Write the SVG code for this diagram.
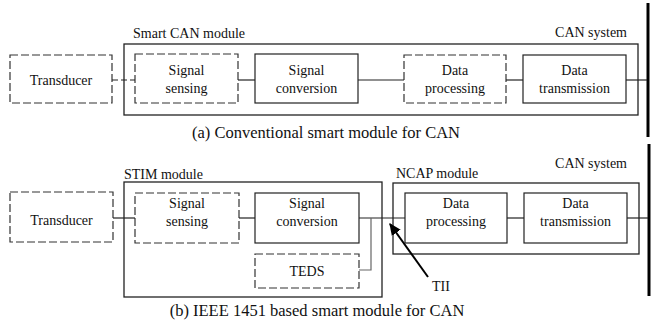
<svg xmlns="http://www.w3.org/2000/svg" width="654" height="326" viewBox="0 0 654 326">
<style>
text{font-family:'Liberation Serif','DejaVu Serif',serif;font-size:14px;fill:#111}
.cap{font-size:16.5px}
.box{fill:none;stroke:#222;stroke-width:1.2}
.dbox{fill:none;stroke:#333;stroke-width:1.2;stroke-dasharray:8 3}
.outer{fill:none;stroke:#222;stroke-width:1.3}
.ln{stroke:#222;stroke-width:1.2;fill:none}
.gl{stroke:#666;stroke-width:1.2;fill:none}
.bar{stroke:#000;stroke-width:3}
</style>
<defs>
<marker id="ah" viewBox="0 0 10 10" refX="9" refY="5" markerWidth="6" markerHeight="6" orient="auto" markerUnits="strokeWidth">
<path d="M0,0.5 L10,5 L0,9.5 z" fill="#000"/>
</marker>
</defs>
<g font-family="Liberation Serif, DejaVu Serif, serif">
<!-- (a) -->
<g id="can-system-a">
<rect class="outer" x="124" y="44" width="514" height="71"/>
<text x="133" y="38">Smart CAN module</text>
<text x="627" y="37" text-anchor="end">CAN system</text>
</g>
<g id="bus-a"><line class="bar" x1="648" y1="3" x2="648" y2="137"/></g>
<g id="transducer-a">
<rect class="dbox" x="10" y="55" width="102" height="48"/>
<text x="61" y="85" text-anchor="middle">Transducer</text>
</g>
<g id="sensing-a">
<rect class="dbox" x="135" y="54" width="103" height="49"/>
<text x="186.5" y="75" text-anchor="middle">Signal</text>
<text x="186.5" y="93" text-anchor="middle">sensing</text>
</g>
<g id="conversion-a">
<rect class="box" x="255" y="54" width="103" height="49"/>
<text x="306.5" y="75" text-anchor="middle">Signal</text>
<text x="306.5" y="93" text-anchor="middle">conversion</text>
</g>
<g id="processing-a">
<rect class="dbox" x="404" y="55" width="102" height="48"/>
<text x="455" y="75" text-anchor="middle">Data</text>
<text x="455" y="93" text-anchor="middle">processing</text>
</g>
<g id="transmission-a">
<rect class="box" x="523" y="55" width="103" height="48"/>
<text x="574.5" y="75" text-anchor="middle">Data</text>
<text x="574.5" y="93" text-anchor="middle">transmission</text>
</g>
<text class="cap" x="326" y="138" text-anchor="middle">(a) Conventional smart module for CAN</text>

<!-- (b) -->
<g id="stim-module">
<rect class="outer" x="124" y="182" width="258" height="115"/>
<text x="124" y="179">STIM module</text>
</g>
<g id="ncap-module">
<rect class="outer" x="393" y="183" width="246" height="71"/>
<text x="396" y="178">NCAP module</text>
<text x="627" y="168" text-anchor="end">CAN system</text>
</g>
<g id="bus-b"><line class="bar" x1="649" y1="144" x2="649" y2="296"/></g>
<g id="transducer-b">
<rect class="dbox" x="10" y="192" width="103" height="50"/>
<text x="61.5" y="225" text-anchor="middle">Transducer</text>
</g>
<g id="sensing-b">
<rect class="dbox" x="135" y="193" width="104" height="50"/>
<text x="187" y="208" text-anchor="middle">Signal</text>
<text x="187" y="226" text-anchor="middle">sensing</text>
</g>
<g id="conversion-b">
<rect class="box" x="255" y="193" width="104" height="50"/>
<text x="307" y="208" text-anchor="middle">Signal</text>
<text x="307" y="226" text-anchor="middle">conversion</text>
</g>
<g id="teds">
<rect class="dbox" x="255" y="254" width="104" height="34"/>
<text x="307" y="276" text-anchor="middle">TEDS</text>
</g>
<g id="processing-b">
<rect class="box" x="405" y="193" width="102" height="50"/>
<text x="456" y="208" text-anchor="middle">Data</text>
<text x="456" y="226" text-anchor="middle">processing</text>
</g>
<g id="transmission-b">
<rect class="box" x="524" y="193" width="103" height="50"/>
<text x="575.5" y="208" text-anchor="middle">Data</text>
<text x="575.5" y="226" text-anchor="middle">transmission</text>
</g>
<g id="tii-label"><text x="432" y="291">TII</text></g>
<text class="cap" x="317" y="316" text-anchor="middle">(b) IEEE 1451 based smart module for CAN</text>
</g>
<g id="connectors">
<line class="ln" x1="112" y1="80" x2="135" y2="80" stroke-dasharray="6 3"/>
<line class="ln" x1="238" y1="80" x2="255" y2="80"/>
<line class="ln" x1="358" y1="80" x2="404" y2="80"/>
<line class="ln" x1="506" y1="80" x2="523" y2="80"/>
<line class="ln" x1="626" y1="80" x2="647" y2="80"/>
<line class="ln" x1="113" y1="218" x2="135" y2="218"/>
<line class="ln" x1="239" y1="218" x2="255" y2="218"/>
<line class="ln" x1="359" y1="218" x2="405" y2="218"/>
<polyline class="gl" points="359,270 371,270 371,218"/>
<line class="ln" x1="507" y1="218" x2="524" y2="218"/>
<line class="ln" x1="627" y1="218" x2="648" y2="218"/>
<line x1="428" y1="277" x2="390" y2="224" stroke="#000" stroke-width="2" marker-end="url(#ah)"/>
</g>
</svg>
